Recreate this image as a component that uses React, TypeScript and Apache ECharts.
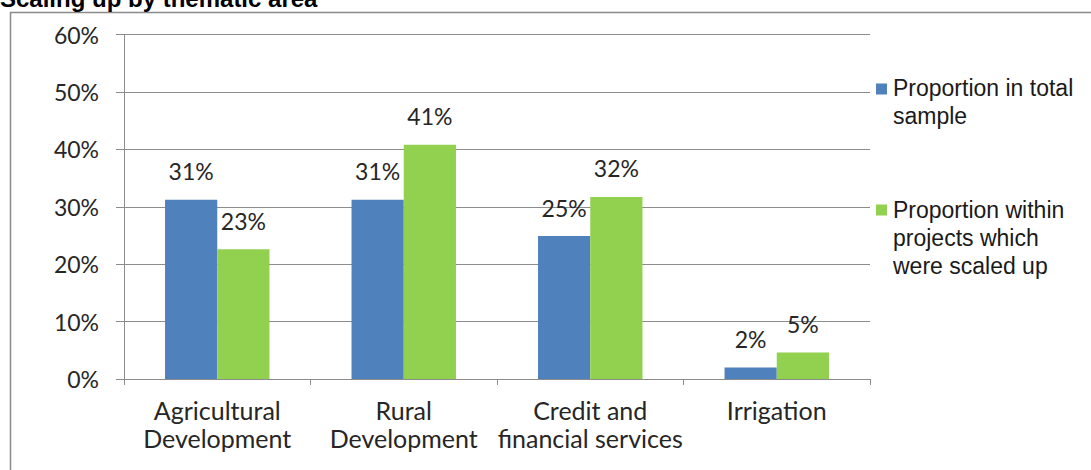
import React, { useEffect, useRef } from "react";
import * as echarts from "echarts";

const categories = ["Agricultural\nDevelopment", "Rural\nDevelopment", "Credit and\nfinancial services", "Irrigation"];
const seriesNames = ["Proportion in total\nsample", "Proportion within\nprojects which\nwere scaled up"];
const totalSample = [31.2, 31.2, 24.9, 2.0];
const scaledUp = [22.6, 40.8, 31.7, 4.6];
const yTicks = [0, 10, 20, 30, 40, 50, 60];
const colors = ["#4F81BD", "#92D050"];
const titleText = "Scaling up by thematic area";

export default function App() {
  const ref = useRef<HTMLDivElement>(null);
  useEffect(() => {
    if (!ref.current) return;
    const chart = echarts.init(ref.current, null, { renderer: "svg" });
    const labelCfg = {
      show: true,
      position: "top",
      distance: 17,
      fontFamily: "Lato",
      fontSize: 23,
      color: "#262626",
      formatter: (p: any) => Math.round(p.value) + "%",
    };
    chart.setOption({
      animation: false,
      backgroundColor: "#ffffff",
      grid: { left: 124, top: 34.5, right: 221, bottom: 91, containLabel: false },
      xAxis: {
        type: "category",
        data: categories,
        axisLine: { show: true, lineStyle: { color: "#8c8c8c", width: 1 } },
        axisTick: { show: true, length: 6, alignWithLabel: false, lineStyle: { color: "#8c8c8c" } },
        axisLabel: {
          interval: 0,
          margin: 17,
          fontFamily: "Lato",
          fontSize: 25,
          lineHeight: 28,
          color: "#262626",
        },
      },
      yAxis: {
        type: "value",
        min: yTicks[0],
        max: yTicks[yTicks.length - 1],
        interval: 10,
        axisLine: { show: true, lineStyle: { color: "#8c8c8c", width: 1 } },
        axisTick: { show: true, length: 8, lineStyle: { color: "#8c8c8c" } },
        splitLine: { show: true, lineStyle: { color: "#8c8c8c", width: 1 } },
        axisLabel: {
          margin: 25,
          fontFamily: "Lato",
          fontSize: 23,
          color: "#262626",
          formatter: (v: number) => v + "%",
        },
      },
      series: [
        {
          name: seriesNames[0],
          type: "bar",
          data: totalSample,
          itemStyle: { color: colors[0] },
          barGap: "0%",
          barCategoryGap: "44%",
          label: labelCfg,
        },
        {
          name: seriesNames[1],
          type: "bar",
          data: scaledUp,
          itemStyle: { color: colors[1] },
          barGap: "0%",
          barCategoryGap: "44%",
          label: labelCfg,
        },
      ],
      graphic: [
        {
          type: "rect",
          shape: { x: 10.5, y: 12.5, width: 1200, height: 600 },
          style: { fill: "none", stroke: "#8a8a8a", lineWidth: 1.5 },
          silent: true,
        },
        {
          type: "text",
          x: 0,
          y: 10,
          style: {
            text: titleText,
            fontFamily: "Liberation Sans",
            fontWeight: "bold",
            fontSize: 24,
            lineHeight: 24,
            fill: "#000",
            verticalAlign: "bottom",
          },
        },
        {
          type: "rect",
          shape: { x: 876, y: 83.5, width: 11, height: 11 },
          style: { fill: colors[0] },
        },
        {
          type: "text",
          x: 893,
          y: 74,
          style: {
            text: seriesNames[0],
            fontFamily: "Liberation Sans",
            fontSize: 23,
            lineHeight: 28,
            fill: "#1a1a1a",
            verticalAlign: "top",
          },
        },
        {
          type: "rect",
          shape: { x: 876, y: 204.5, width: 11, height: 11 },
          style: { fill: colors[1] },
        },
        {
          type: "text",
          x: 893,
          y: 196,
          style: {
            text: seriesNames[1],
            fontFamily: "Liberation Sans",
            fontSize: 23,
            lineHeight: 28,
            fill: "#1a1a1a",
            verticalAlign: "top",
          },
        },
      ],
    });
    return () => chart.dispose();
  }, []);
  return (
    <div
      ref={ref}
      style={{ position: "fixed", left: 0, top: 0, width: 1091, height: 470, background: "#fff" }}
    />
  );
}
